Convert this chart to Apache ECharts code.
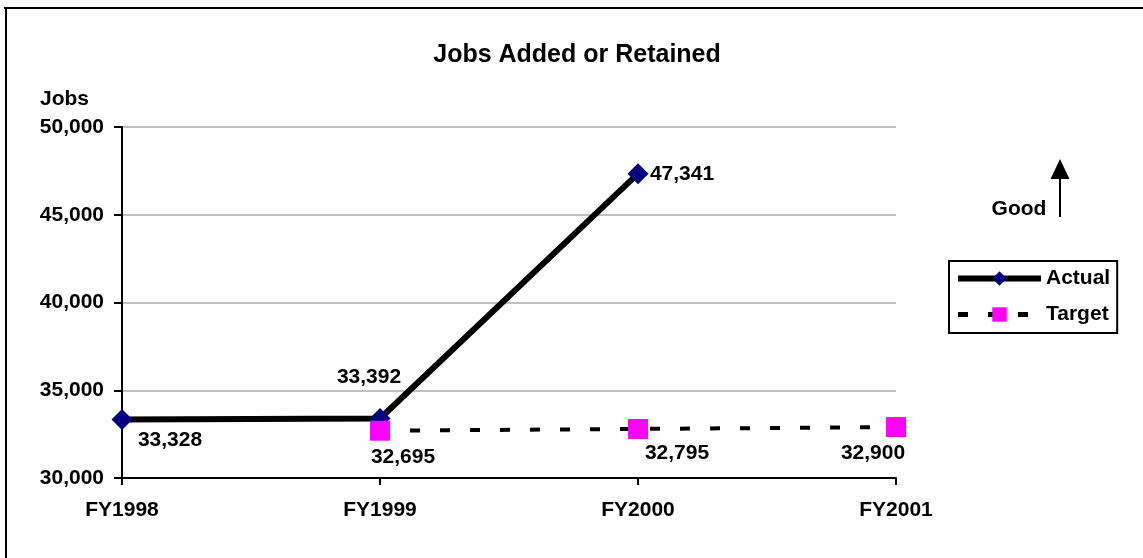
<!DOCTYPE html>
<html>
<head>
<meta charset="utf-8">
<title>Jobs Added or Retained</title>
<script src="https://cdn.jsdelivr.net/npm/echarts@6/dist/echarts.min.js"></script>
<style>
  html, body { margin: 0; padding: 0; background: #ffffff; }
  #chart { width: 1143px; height: 558px; }
</style>
</head>
<body>
<div id="chart"></div>
<script>
// Fiscal years on the horizontal axis
const categories = ['FY1998', 'FY1999', 'FY2000', 'FY2001'];
// Jobs actually added or retained (no figure yet for FY2001)
const actualValues = [33328, 33392, 47341, null];
// Target jobs (no target set for FY1998)
const targetValues = [null, 32695, 32795, 32900];
// Vertical axis range and step
const yMin = 30000;
const yMax = 50000;
const yStep = 5000;

// Where each value label sits relative to its marker, [dx, dy] in pixels
const actualLabelOffsets = [[48, 21], [-11, -41], [44, 1], [0, 0]];
const targetLabelOffsets = [[0, 0], [23, 27], [39, 24], [-23, 26]];

const FONT = '"Liberation Sans", Arial, Helvetica, sans-serif';
const FS = 21;
const fmt = v => Number(v).toLocaleString('en-US');

function withLabels(values, offsets) {
  return values.map((v, i) => v == null ? null : {
    value: v,
    label: { offset: offsets[i] }
  });
}

const labelStyle = {
  show: true,
  position: 'inside',
  align: 'center',
  verticalAlign: 'middle',
  color: '#000',
  fontFamily: FONT,
  fontWeight: 'bold',
  fontSize: FS,
  formatter: p => fmt(p.value)
};

const chart = echarts.init(document.getElementById('chart'), null, { renderer: 'canvas' });

chart.setOption({
  backgroundColor: '#ffffff',
  animation: false,
  textStyle: { fontFamily: FONT },
  grid: { left: 122, right: 247, top: 127, bottom: 80, containLabel: false },
  xAxis: {
    type: 'category',
    data: categories,
    boundaryGap: false,
    axisLine: { lineStyle: { color: '#000', width: 2 } },
    axisTick: { show: true, length: 7, alignWithLabel: true, lineStyle: { color: '#000', width: 2 } },
    axisLabel: { margin: 22, color: '#000', fontFamily: FONT, fontWeight: 'bold', fontSize: FS },
    splitLine: { show: false }
  },
  yAxis: {
    type: 'value',
    min: yMin,
    max: yMax,
    interval: yStep,
    axisLine: { show: true, lineStyle: { color: '#000', width: 2 } },
    axisTick: { show: true, length: 8, lineStyle: { color: '#000', width: 2 } },
    axisLabel: { margin: 18, color: '#000', fontFamily: FONT, fontWeight: 'bold', fontSize: FS, formatter: v => fmt(v) },
    splitLine: { show: true, lineStyle: { color: '#c0c0c0', width: 2 } }
  },
  legend: {
    orient: 'vertical',
    left: 949,
    top: 261,
    padding: [7, 7, 8, 6],
    itemWidth: 83,
    itemHeight: 18,
    itemGap: 15,
    borderColor: '#000',
    borderWidth: 2,
    backgroundColor: '#fff',
    textStyle: { color: '#000', fontFamily: FONT, fontWeight: 'bold', fontSize: FS, lineHeight: 21 },
    data: [
      { name: 'Actual', lineStyle: { width: 6 } },
      { name: 'Target', lineStyle: { width: 5, type: [10, 20] } }
    ]
  },
  graphic: [
    // chart frame (top and left edges)
    { type: 'line', shape: { x1: 4, y1: 8, x2: 1143, y2: 8 }, style: { stroke: '#000', lineWidth: 2 } },
    { type: 'line', shape: { x1: 6, y1: 7, x2: 6, y2: 558 }, style: { stroke: '#000', lineWidth: 2 } },
    // title
    { type: 'text', x: 577, y: 55, style: { text: 'Jobs Added or Retained', fill: '#000', font: 'bold 25px ' + FONT, align: 'center', verticalAlign: 'middle' } },
    // axis caption
    { type: 'text', x: 40, y: 99, style: { text: 'Jobs', fill: '#000', font: 'bold ' + FS + 'px ' + FONT, align: 'left', verticalAlign: 'middle' } },
    // "Good" direction marker
    { type: 'text', x: 1019, y: 209, style: { text: 'Good', fill: '#000', font: 'bold ' + FS + 'px ' + FONT, align: 'center', verticalAlign: 'middle' } },
    { type: 'line', shape: { x1: 1060, y1: 217, x2: 1060, y2: 176 }, style: { stroke: '#000', lineWidth: 2 } },
    { type: 'polygon', shape: { points: [[1050.5, 179], [1069.5, 179], [1060, 159]] }, style: { fill: '#000' } }
  ],
  series: [
    {
      name: 'Actual',
      type: 'line',
      data: withLabels(actualValues, actualLabelOffsets),
      symbol: 'diamond',
      symbolSize: 21,
      showAllSymbol: true,
      connectNulls: false,
      lineStyle: { color: '#000', width: 6 },
      itemStyle: { color: '#000080', borderWidth: 0 },
      label: labelStyle,
      z: 2
    },
    {
      name: 'Target',
      type: 'line',
      data: withLabels(targetValues, targetLabelOffsets),
      symbol: 'rect',
      symbolSize: 20,
      showAllSymbol: true,
      connectNulls: false,
      lineStyle: { color: '#000', width: 4, type: [10, 20] },
      itemStyle: { color: '#ff00ff', borderWidth: 0 },
      label: labelStyle,
      z: 3
    }
  ]
});
</script>
</body>
</html>
